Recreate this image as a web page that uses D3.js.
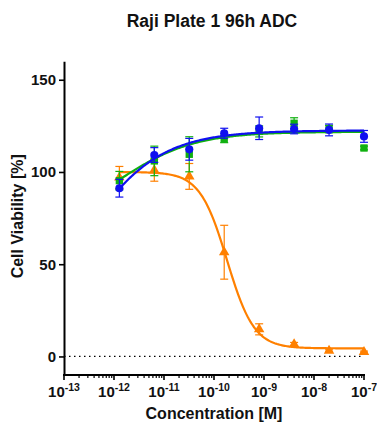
<!DOCTYPE html>
<html>
<head>
<meta charset="utf-8">
<script src="https://cdn.jsdelivr.net/npm/d3@7"></script>
<style>
  html, body { margin: 0; padding: 0; background: #fff; }
  svg text { font-family: "Liberation Sans", Arial, Helvetica, sans-serif; font-weight: bold; fill: #111; }
</style>
</head>
<body>
<svg id="chart" width="377" height="423"></svg>
<script>
// Concentrations (M), 5-fold dilution series
const concentrations = [1.28e-12, 6.4e-12, 3.2e-11, 1.6e-10, 8e-10, 4e-9, 2e-8, 1e-7];

// Mean viability (%) and error per series
const blueMean   = [91.2, 109.2, 112.3, 121.0, 123.7, 123.3, 122.8, 119.3];
const blueErr    = [4.8, 4.0, 5.9, 2.7, 6.1, 2.6, 3.2, 3.2];
const greenMean  = [95.3, 106.0, 109.6, 117.9, 122.0, 126.4, 123.3, 113.0];
const greenErr   = [5.0, 8.0, 9.5, 2.0, 3.0, 3.0, 2.0, 1.0];
const orangeMean = [97.0, 101.0, 97.6, 56.5, 14.7, 6.6, 3.1, 2.4];
const orangeErr  = [6.0, 6.0, 7.0, 14.6, 3.0, 1.0, 0.5, 0.5];

// Four-parameter logistic fits: [bottom, top, logEC50, hill]
const blueFit   = [0, 122.5, -12.73, 0.55];
const greenFit  = [70, 121.8, -11.89, 0.58];
const orangeFit = [4.4, 100.0, -9.74, -1.6];

// Axis ticks
const xTickExponents = [-13, -12, -11, -10, -9, -8, -7];
const yTicks = [0, 50, 100, 150];

const svg = d3.select("#chart");

const x = d3.scaleLog().domain([1e-13, 1e-7]).range([64, 364]);
const y = d3.scaleLinear().domain([-10, 160]).range([374.9, 61.3]);

// Title
svg.append("text")
  .attr("x", 212).attr("y", 27)
  .attr("text-anchor", "middle")
  .style("font-size", "17.5px")
  .text("Raji Plate 1 96h ADC");

// Dotted baseline at 0
svg.append("line")
  .attr("x1", x(1e-13)).attr("x2", x(1e-7))
  .attr("y1", y(0)).attr("y2", y(0))
  .attr("stroke", "#000").attr("stroke-width", 1.2)
  .attr("stroke-dasharray", "1.5,3.5");

// Y axis
const yAxis = svg.append("g").attr("transform", "translate(64,0)")
  .call(d3.axisLeft(y).tickValues(yTicks).tickSize(5).tickPadding(3).tickSizeOuter(0));
yAxis.select(".domain").attr("stroke", "#000").attr("stroke-width", 2);
yAxis.selectAll(".tick line").attr("stroke", "#000").attr("stroke-width", 1.6);
yAxis.selectAll(".tick text").style("font-size", "15px").attr("fill", "#111")
  .style("font-family", "'Liberation Sans', Arial, sans-serif").style("font-weight", "bold");

// X axis with log minor ticks
const minorTicks = [];
for (let e = -13; e < -7; e++) {
  for (let m = 2; m <= 9; m++) minorTicks.push(m * Math.pow(10, e));
}
const xAxisG = svg.append("g").attr("transform", `translate(0,${y(-10)})`);
xAxisG.append("line")
  .attr("x1", x(1e-13) - 1).attr("x2", x(1e-7) + 1)
  .attr("y1", 0).attr("y2", 0)
  .attr("stroke", "#000").attr("stroke-width", 2);
xAxisG.selectAll("line.major").data(xTickExponents).join("line")
  .attr("class", "major")
  .attr("x1", d => x(Math.pow(10, d))).attr("x2", d => x(Math.pow(10, d)))
  .attr("y1", 0).attr("y2", 5)
  .attr("stroke", "#000").attr("stroke-width", 1.6);
xAxisG.selectAll("line.minor").data(minorTicks).join("line")
  .attr("class", "minor")
  .attr("x1", d => x(d)).attr("x2", d => x(d))
  .attr("y1", 0).attr("y2", 3)
  .attr("stroke", "#000").attr("stroke-width", 1.2);
const xl = xAxisG.selectAll("text.xl").data(xTickExponents).join("text")
  .attr("class", "xl")
  .attr("x", d => x(Math.pow(10, d)))
  .attr("y", 22)
  .attr("text-anchor", "middle")
  .style("font-size", "15px");
xl.append("tspan").text("10");
xl.append("tspan").attr("dy", -6).style("font-size", "10.5px").text(d => String(d));

// Axis titles
svg.append("text")
  .attr("x", 214).attr("y", 419)
  .attr("text-anchor", "middle")
  .style("font-size", "16px")
  .text("Concentration [M]");
svg.append("text")
  .attr("transform", `translate(23,${y(76)}) rotate(-90)`)
  .attr("text-anchor", "middle")
  .style("font-size", "16px")
  .text("Cell Viability [%]");

// Fitted curve
function logistic(p, lx) {
  const [bottom, top, c, h] = p;
  return bottom + (top - bottom) / (1 + Math.pow(10, (c - lx) * h));
}
const lxMin = Math.log10(concentrations[0]);
const lxMax = Math.log10(concentrations[concentrations.length - 1]);
const lxSteps = d3.range(0, 201).map(i => lxMin + (lxMax - lxMin) * i / 200);
const line = d3.line().x(d => x(Math.pow(10, d[0]))).y(d => y(d[1]));

const series = [
  { mean: orangeMean, err: orangeErr, fit: orangeFit, color: "#ff8000", shape: "triangle" },
  { mean: greenMean,  err: greenErr,  fit: greenFit,  color: "#10b010", shape: "square" },
  { mean: blueMean,   err: blueErr,   fit: blueFit,   color: "#1010f0", shape: "circle" }
];

series.forEach(s => {
  const g = svg.append("g");
  g.append("path")
    .datum(lxSteps.map(lx => [lx, logistic(s.fit, lx)]))
    .attr("d", line)
    .attr("fill", "none").attr("stroke", s.color).attr("stroke-width", 2.2);

  const pts = concentrations.map((c, i) => ({ c, m: s.mean[i], e: s.err[i] }));
  const eb = g.selectAll("g.eb").data(pts).join("g").attr("class", "eb");
  eb.append("line")
    .attr("x1", d => x(d.c)).attr("x2", d => x(d.c))
    .attr("y1", d => y(d.m - d.e)).attr("y2", d => y(d.m + d.e))
    .attr("stroke", s.color).attr("stroke-width", 1.2);
  [1, -1].forEach(sign => {
    eb.append("line")
      .attr("x1", d => x(d.c) - 4).attr("x2", d => x(d.c) + 4)
      .attr("y1", d => y(d.m + sign * d.e)).attr("y2", d => y(d.m + sign * d.e))
      .attr("stroke", s.color).attr("stroke-width", 1.2);
  });

  const symType = s.shape === "circle" ? d3.symbolCircle
    : s.shape === "square" ? d3.symbolSquare : d3.symbolTriangle;
  const size = s.shape === "circle" ? 52 : s.shape === "square" ? 54 : 48;
  g.selectAll("path.pt").data(pts).join("path")
    .attr("class", "pt")
    .attr("transform", d => `translate(${x(d.c)},${y(d.m)})`)
    .attr("d", d3.symbol().type(symType).size(size))
    .attr("fill", s.color);
});
</script>
</body>
</html>
